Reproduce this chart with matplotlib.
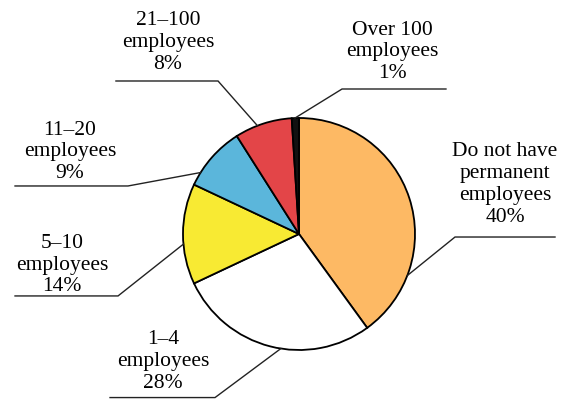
import numpy as np
import matplotlib

matplotlib.use("Agg")
import matplotlib.pyplot as plt  # noqa: E402

# Share of companies by number of permanent employees
labels = [
    "Do not have\npermanent\nemployees",
    "1\u20134\nemployees",
    "5\u201310\nemployees",
    "11\u201320\nemployees",
    "21\u2013100\nemployees",
    "Over 100\nemployees",
]
shares = [40, 28, 14, 9, 8, 1]
colors = ["#FDB964", "#FFFFFF", "#F8EA33", "#5BB6DB", "#E34548", "#111111"]

# Label layout, in units of the pie radius (centre at 0, 0):
# angle where the leader leaves the pie, elbow point, far end of the underline,
# and centre of the text block.
layout = [
    (-21, (1.345, -0.026), 2.207, (1.776, 0.427)),
    (-99, (-0.724, -1.410), -1.629, (-1.172, -1.100)),
    (-175, (-1.560, -0.534), -2.448, (-2.043, -0.268)),
    (148, (-1.474, 0.414), -2.448, (-1.974, 0.708)),
    (111, (-0.698, 1.319), -1.578, (-1.129, 1.650)),
    (92, (0.371, 1.250), 1.267, (0.802, 1.570)),
]

W, H, DPI = 566, 399, 100
CX, CY, R = 299, 234, 116  # pie centre and radius in pixels

fig = plt.figure(figsize=(W / DPI, H / DPI), dpi=DPI)
ax = fig.add_axes([0, 0, 1, 1])
ax.pie(
    shares,
    colors=colors,
    startangle=90,
    counterclock=False,
    radius=1,
    wedgeprops=dict(edgecolor="black", linewidth=1.3),
)
ax.set_xlim(-CX / R, (W - CX) / R)
ax.set_ylim((CY - H) / R, CY / R)
ax.set_aspect("equal")
ax.axis("off")

for lab, share, (ang, elbow, xend, txt) in zip(labels, shares, layout):
    a = np.deg2rad(ang)
    x0, y0 = np.cos(a), np.sin(a)
    ax.plot([x0, elbow[0], xend], [y0, elbow[1], elbow[1]],
            color="#222222", lw=1.0, solid_joinstyle="miter")
    ax.text(txt[0], txt[1], f"{lab}\n{share}%", ha="center", va="center",
            family="Liberation Serif", fontsize=15.5, linespacing=1.2,
            multialignment="center")

fig.savefig("out.png", dpi=DPI)
